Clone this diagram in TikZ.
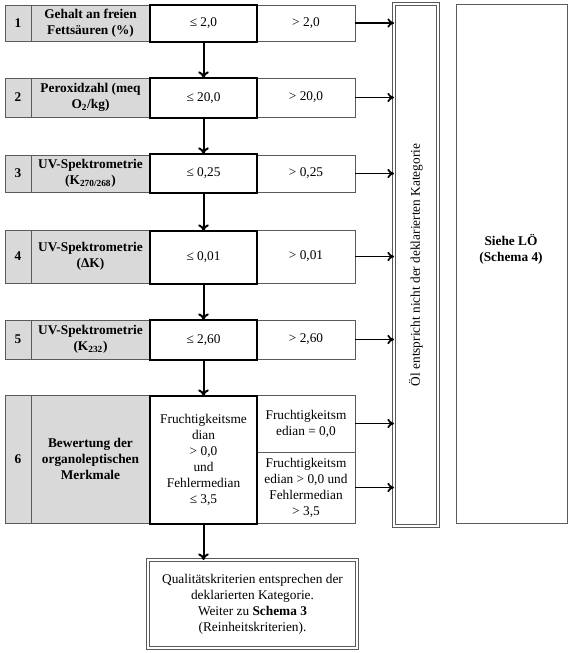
\documentclass[tikz,border=0pt]{standalone}
\usepackage{fontspec}
\setmainfont{Liberation Serif}
\usetikzlibrary{arrows.meta}
\definecolor{cellgrey}{RGB}{217,217,217}
\definecolor{linegrey}{RGB}{90,90,90}
\begin{document}
\begin{tikzpicture}[x=0.75pt,y=-0.75pt,
  cellbox/.style n args={4}{rectangle, inner sep=0pt, outer sep=0pt,
     minimum width={(#3-#1)*0.75pt}, minimum height={(#4-#2)*0.75pt},
     at={({(#1+#3)/2},{(#2+#4)/2})}},
  greycell/.style={fill=cellgrey, draw=linegrey, line width=0.7pt, font=\bfseries, align=center},
  plaincell/.style={fill=white, draw=linegrey, line width=0.7pt, align=center},
  thickcell/.style={fill=white, draw=black, line width=2.2pt, align=center},
  dblbox/.style={draw=linegrey, line width=0.9pt, double=white, double distance=0.8pt, fill=white, align=center},
  varr/.style={-{To[length=5pt,width=8pt]}, line width=1.5pt},
  harr/.style={-{To[length=5pt,width=7pt]}, line width=1.3pt},
]
\useasboundingbox[fill=white] (0,0) rectangle (569,653);

% tall boxes on the right
\node[dblbox, cellbox={394}{4}{438}{526}] (tall) {};
\node[rotate=90] (talltext) at (tall.center) {Öl entspricht nicht der deklarierten Kategorie};
\node[plaincell, cellbox={456}{4}{567}{523}] (siehe) {};
\node[font=\bfseries, align=center] (siehetext) at (511,249) {Siehe LÖ\\(Schema 4)};

% Row 1
\node[greycell, cellbox={5}{5}{31}{41}] (n1) {1};
\node[greycell, cellbox={31}{5}{150}{41}] (l1) {Gehalt an freien\\Fettsäuren (\%)};
\node[plaincell, cellbox={257}{5}{355}{41}] (r1) {> 2,0};
\node[thickcell, cellbox={150}{5}{257}{42}] (t1) {≤ 2,0};

% Row 2
\node[greycell, cellbox={5}{78}{31}{117}] (n2) {2};
\node[greycell, cellbox={31}{78}{150}{117}] (l2) {Peroxidzahl (meq\\O\textsubscript{2}/kg)};
\node[plaincell, cellbox={257}{78}{355}{117}] (r2) {> 20,0};
\node[thickcell, cellbox={150}{78}{257}{118}] (t2) {≤ 20,0};

% Row 3
\node[greycell, cellbox={5}{155}{31}{192}] (n3) {3};
\node[greycell, cellbox={31}{155}{150}{192}] (l3) {UV-Spektrometrie\\(K\textsubscript{270/268})};
\node[plaincell, cellbox={257}{155}{355}{192}] (r3) {> 0,25};
\node[thickcell, cellbox={150}{154}{257}{193}] (t3) {≤ 0,25};

% Row 4
\node[greycell, cellbox={5}{230}{31}{283}] (n4) {4};
\node[greycell, cellbox={31}{230}{150}{283}] (l4) {UV-Spektrometrie\\(ΔK)};
\node[plaincell, cellbox={257}{230}{355}{283}] (r4) {> 0,01};
\node[thickcell, cellbox={150}{231}{257}{284}] (t4) {≤ 0,01};

% Row 5
\node[greycell, cellbox={5}{320}{31}{359}] (n5) {5};
\node[greycell, cellbox={31}{320}{150}{359}] (l5) {UV-Spektrometrie\\(K\textsubscript{232})};
\node[plaincell, cellbox={257}{320}{355}{359}] (r5) {> 2,60};
\node[thickcell, cellbox={150}{320}{257}{360}] (t5) {≤ 2,60};

% Row 6
\node[greycell, cellbox={5}{395}{31}{523}] (n6) {6};
\node[greycell, cellbox={31}{395}{150}{523}] (l6) {Bewertung der\\organoleptischen\\Merkmale};
\node[plaincell, cellbox={257}{395}{355}{452}] (r6a) {Fruchtigkeitsm\\edian = 0,0};
\node[plaincell, cellbox={257}{452}{355}{523}] (r6b) {Fruchtigkeitsm\\edian > 0,0 und\\Fehlermedian\\> 3,5};
\node[thickcell, cellbox={150}{396}{257}{524}] (t6) {Fruchtigkeitsme\\dian\\> 0,0\\und\\Fehlermedian\\≤ 3,5};

% Final box
\node[dblbox, cellbox={148}{560}{357}{648}] (final) {Qualitätskriterien entsprechen der\\deklarierten Kategorie.\\Weiter zu \textbf{Schema 3}\\(Reinheitskriterien).};

% vertical arrows
\draw[varr] (t1.south) -- (t2.north);
\draw[varr] (t2.south) -- (t3.north);
\draw[varr] (t3.south) -- (t4.north);
\draw[varr] (t4.south) -- (t5.north);
\draw[varr] (t5.south) -- (t6.north);
\draw[varr] (t6.south) -- (final.north -| t6.south);

% horizontal arrows
\foreach \r in {r1,r2,r3,r4,r5,r6a,r6b}{
  \draw[harr] (\r.east) -- (\r.east -| tall.west);
}
\end{tikzpicture}
\end{document}
